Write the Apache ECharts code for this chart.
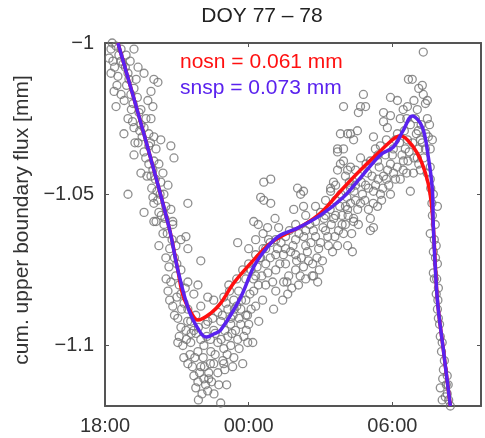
<!DOCTYPE html>
<html>
<head>
<meta charset="utf-8">
<script src="https://cdn.jsdelivr.net/npm/echarts@6/dist/echarts.min.js"></script>
<style>html,body{margin:0;padding:0;background:#fff}#c{width:485px;height:438px}</style>
</head>
<body>
<div id="c"></div>
<script>
// x values: hours since 18:00 (DOY 77)
const titleText = 'DOY 77 \u2013 78';
const yAxisTitle = 'cum. upper boundary flux [mm]';
const xTickValues = [0, 6, 12];
const xTickLabels = ['18:00', '00:00', '06:00'];
const yTickValues = [-1.1, -1.05, -1];
const yTickLabels = ['\u22121.1', '\u22121.05', '\u22121'];
const legendNosn = 'nosn = 0.061 mm';
const legendSnsp = 'snsp = 0.073 mm';

const nosnH = [0.54,1.58,2.67,3.04,3.25,3.58,3.88,4.42,4.83,5.38,6.21,6.92,7.63,8.29,9.00,9.83,10.67,11.50,12.04,12.33,12.63,13.04,13.38,13.58,13.71,13.88,14.13,14.42];
const nosnY = [-1.000,-1.0288,-1.0608,-1.0750,-1.0833,-1.0889,-1.0916,-1.0893,-1.0860,-1.0793,-1.0717,-1.0661,-1.0628,-1.0602,-1.0562,-1.0490,-1.0420,-1.0357,-1.0318,-1.0307,-1.0321,-1.0364,-1.0430,-1.0502,-1.0608,-1.0850,-1.1015,-1.1200];

const snspH = [0.54,1.58,2.67,3.04,3.50,4.00,4.25,4.54,4.83,5.67,6.21,6.79,7.33,8.04,9.00,9.96,10.67,11.50,12.04,12.46,12.83,13.25,13.50,13.67,13.71,13.88,14.13,14.42];
const snspY = [-1.000,-1.0288,-1.0608,-1.0750,-1.0883,-1.0959,-1.0972,-1.0962,-1.0949,-1.0840,-1.0740,-1.0674,-1.0635,-1.0612,-1.0569,-1.0509,-1.0445,-1.0370,-1.0344,-1.0288,-1.0241,-1.0278,-1.0377,-1.0486,-1.0608,-1.0850,-1.1015,-1.1200];

const obsPoints = [
[0.25,-1.002],[0.46,-1.001],[1.21,-1.002],[0.67,-1.006],[0.88,-1.004],[1.38,-1.008],[0.25,-1.010],[0.54,-1.011],[0.96,-1.010],[1.63,-1.010],
[2.04,-1.012],[0.38,-1.016],[0.67,-1.017],[1.21,-1.015],[1.92,-1.016],[2.21,-1.013],[0.46,-1.021],[1.17,-1.020],[1.79,-1.019],[2.00,-1.021],
[0.96,-1.025],[1.42,-1.023],[1.92,-1.025],[1.21,-1.028],[0.79,-1.030],[1.63,-1.028],[2.04,-1.031],[1.38,-1.033],[2.33,-1.032],[1.83,-1.034],
[2.75,-1.034],[1.21,-1.037],[1.63,-1.036],[2.04,-1.039],[2.88,-1.038],[1.50,-1.043],[1.92,-1.044],[2.42,-1.043],[0.96,-1.050],[2.00,-1.051],
[2.46,-1.050],[3.46,-1.053],[2.04,-1.053],[1.63,-1.056],[2.25,-1.056],[2.13,-1.059],[2.83,-1.059],
[0.67,-1.002],[0.75,-1.007],[1.00,-1.012],[1.08,-1.017],[1.50,-1.022],[1.71,-1.025],[1.50,-1.027],[1.83,-1.030],[2.13,-1.035],[2.25,-1.040],
[1.83,-1.040],[2.33,-1.046],[2.63,-1.047],[2.17,-1.049],[2.54,-1.054],[2.75,-1.055],[2.46,-1.060],[0.17,-1.005],[0.33,-1.006],
[2.04,-1.059],[2.83,-1.060],[2.42,-1.063],[3.17,-1.065],[3.38,-1.064],[2.25,-1.067],[2.96,-1.067],[3.46,-1.068],[4.00,-1.072],[2.54,-1.071],
[2.67,-1.074],[3.17,-1.075],[2.75,-1.079],[3.46,-1.079],[3.88,-1.080],[2.63,-1.082],[3.17,-1.083],[3.71,-1.083],[4.29,-1.084],[2.83,-1.087],
[3.46,-1.088],[4.00,-1.087],[4.54,-1.085],[4.96,-1.084],[3.04,-1.091],[3.58,-1.092],[4.29,-1.092],[4.71,-1.089],[5.13,-1.088],[3.17,-1.094],
[3.71,-1.095],[4.54,-1.095],[3.04,-1.099],[3.58,-1.099],[4.00,-1.098],[4.71,-1.099],[5.13,-1.097],[3.29,-1.104],[3.88,-1.102],[4.42,-1.102],
[4.96,-1.101],[3.46,-1.106],[4.00,-1.107],[4.54,-1.106],[3.71,-1.110],[4.13,-1.111],[4.71,-1.109],[3.88,-1.112],[4.29,-1.115],[4.83,-1.119],
[3.79,-1.090],[4.21,-1.093],[4.50,-1.091],[4.83,-1.092],[5.25,-1.091],[5.50,-1.087],[5.67,-1.093],[6.00,-1.093],[6.17,-1.099],[5.75,-1.106],
[5.33,-1.107],[5.25,-1.100],[5.54,-1.098],[4.92,-1.105],[4.33,-1.109],[3.79,-1.114],[4.33,-1.111],[5.08,-1.113],[3.38,-1.095],[4.13,-1.100],
[6.63,-1.046],[6.92,-1.045],[6.63,-1.052],[6.92,-1.053],[6.21,-1.059],[6.79,-1.061],[5.54,-1.066],[8.04,-1.048],[8.17,-1.050],[7.88,-1.055],
[8.29,-1.054],[9.71,-1.036],[9.83,-1.040],[10.25,-1.041],[9.54,-1.046],[9.42,-1.049],[10.38,-1.058],[10.13,-1.067],[9.71,-1.067],[8.88,-1.079],
[8.71,-1.077],[8.29,-1.074],[7.04,-1.088],[7.63,-1.083],[7.46,-1.079],[6.21,-1.082],[5.67,-1.088],[5.25,-1.093],[5.96,-1.099],[5.38,-1.104],
[4.96,-1.106],[6.50,-1.051],
[5.17,-1.080],[5.38,-1.085],[5.58,-1.082],[5.88,-1.078],[5.88,-1.085],[5.88,-1.090],[6.00,-1.073],[6.29,-1.070],[6.29,-1.077],[6.29,-1.087],
[6.42,-1.092],[6.29,-1.065],[6.71,-1.068],[6.71,-1.073],[6.71,-1.080],[6.58,-1.085],[6.83,-1.065],[7.13,-1.065],[7.13,-1.070],[7.13,-1.075],
[7.13,-1.082],[7.25,-1.061],[7.54,-1.064],[7.54,-1.068],[7.54,-1.073],[7.67,-1.077],[7.42,-1.085],[7.96,-1.060],[7.96,-1.065],[7.96,-1.070],
[7.96,-1.075],[8.08,-1.080],[8.38,-1.057],[8.38,-1.062],[8.38,-1.067],[8.50,-1.072],[8.38,-1.078],[8.79,-1.054],[8.79,-1.059],[8.79,-1.064],
[8.92,-1.068],[8.67,-1.073],[9.21,-1.052],[9.21,-1.057],[9.21,-1.062],[9.33,-1.067],[9.08,-1.072],[9.63,-1.047],[9.63,-1.052],[9.63,-1.057],
[9.75,-1.062],[10.04,-1.044],[10.04,-1.049],[10.04,-1.054],[10.04,-1.060],[10.46,-1.042],[10.46,-1.047],[10.46,-1.052],[10.58,-1.060],
[13.29,-1.003],[12.67,-1.012],[12.83,-1.012],[13.25,-1.014],[13.29,-1.017],[10.79,-1.017],[11.92,-1.018],[12.21,-1.019],[10.67,-1.021],[10.88,-1.021],
[11.63,-1.023],[11.92,-1.024],[9.96,-1.021],[12.63,-1.021],[13.04,-1.022],[13.38,-1.020],[13.46,-1.025],[11.79,-1.028],[11.63,-1.026],[10.54,-1.029],
[10.13,-1.030],[10.38,-1.032],[11.21,-1.031],[12.21,-1.030],[11.50,-1.034],[12.04,-1.035],[12.63,-1.032],[13.17,-1.032],[13.50,-1.031],[13.58,-1.035],
[9.96,-1.035],[10.67,-1.038],[11.38,-1.039],[11.92,-1.040],[12.46,-1.039],[13.04,-1.038],[13.58,-1.041],[10.13,-1.042],[10.96,-1.043],[11.63,-1.044],
[12.33,-1.045],[12.88,-1.043],[13.58,-1.045],[10.25,-1.048],[11.21,-1.049],[11.92,-1.050],[12.75,-1.049],[13.71,-1.050],[10.67,-1.053],[11.38,-1.054],
[10.38,-1.059],[11.08,-1.058],[10.13,-1.055],[13.88,-1.054],[10.58,-1.023],[9.83,-1.030],[10.25,-1.030],[9.71,-1.035],[9.96,-1.039],[9.71,-1.042],
[8.29,-1.049],[9.42,-1.048],
[12.96,-1.025],[12.75,-1.027],[13.08,-1.029],[12.33,-1.025],[12.54,-1.035],[12.13,-1.032],[11.71,-1.037],[11.29,-1.035],[11.08,-1.039],[10.88,-1.047],
[11.50,-1.050],[12.13,-1.045],[13.17,-1.042],[13.38,-1.035],[13.67,-1.032],[13.46,-1.019],
[13.58,-1.063],[13.71,-1.069],[13.88,-1.073],[13.71,-1.076],[13.92,-1.081],[13.88,-1.088],[14.00,-1.097],[14.08,-1.099],[14.13,-1.108],[14.29,-1.110],
[14.00,-1.114],[14.29,-1.116],[14.08,-1.118],[13.67,-1.057],[13.79,-1.060],[13.83,-1.067],[13.75,-1.078],[13.83,-1.083],[13.92,-1.091],[14.17,-1.105],
[14.33,-1.113],[14.21,-1.117],[14.42,-1.120],[9.96,-1.063],[10.33,-1.069],[11.21,-1.061],[11.08,-1.062],
[0.30,-1.000],[0.58,-1.004],[0.85,-1.008],[1.05,-1.006],[0.50,-1.014],[0.80,-1.019],[1.30,-1.012],[1.10,-1.022],[1.35,-1.018],[1.55,-1.031],
[1.25,-1.033],[1.70,-1.038],[1.90,-1.033],[2.10,-1.045],[1.95,-1.048],[2.20,-1.052],[2.35,-1.057],[2.60,-1.063],[2.70,-1.068],[2.90,-1.071],
[2.55,-1.078],[2.95,-1.077],[3.10,-1.080],[3.30,-1.086],[2.90,-1.090],[3.10,-1.097],[3.45,-1.092],[3.60,-1.096],[3.80,-1.096],[3.25,-1.100],
[3.55,-1.103],[3.75,-1.104],[4.10,-1.104],[4.25,-1.097],[4.40,-1.098],[3.95,-1.109],[4.20,-1.113],[4.05,-1.116],[4.45,-1.112],[4.60,-1.103],
[4.85,-1.098],[5.00,-1.095],[5.10,-1.103],[5.45,-1.095],[5.60,-1.101],[5.35,-1.090],[5.70,-1.085],[5.90,-1.095],[6.10,-1.088],[6.40,-1.080],
[6.55,-1.077],[6.10,-1.075],[6.45,-1.071],[6.90,-1.071],[7.00,-1.079],[7.30,-1.073],[7.35,-1.066],[7.70,-1.062],[7.75,-1.069],[7.80,-1.081],
[8.10,-1.063],[8.20,-1.071],[8.55,-1.060],[8.60,-1.066],[8.65,-1.077],[9.00,-1.056],[9.00,-1.066],[9.10,-1.061],[9.40,-1.055],[9.45,-1.060],
[9.50,-1.069],[9.85,-1.050],[9.90,-1.057],[10.20,-1.046],[10.25,-1.053],[10.30,-1.063],[10.70,-1.046],[10.75,-1.050],[10.90,-1.040],[11.00,-1.055],
[11.15,-1.044],[11.30,-1.047],[11.45,-1.041],[11.55,-1.052],[11.80,-1.042],[11.85,-1.047],[12.00,-1.037],[12.20,-1.041],[12.30,-1.033],[12.50,-1.029],
[12.60,-1.043],[12.70,-1.036],[12.85,-1.033],[13.00,-1.030],[13.10,-1.035],[13.20,-1.027],[13.30,-1.038],[13.40,-1.030],[13.45,-1.043],[13.55,-1.027],
[13.60,-1.048],[13.65,-1.053],[13.75,-1.065],[13.80,-1.071],[13.85,-1.078],[13.90,-1.085],[13.97,-1.093],[14.05,-1.102],[14.10,-1.111],[14.25,-1.113],
[14.35,-1.118],[5.20,-1.082],[5.50,-1.078],[5.75,-1.075],[6.00,-1.068],[6.60,-1.063],[7.10,-1.058],[6.40,-1.060],
[6.90,-1.066],[7.20,-1.068],[7.45,-1.070],[7.60,-1.079],[7.85,-1.067],[8.00,-1.072],[8.15,-1.077],[8.30,-1.064],[8.45,-1.069],[8.70,-1.062],
[8.85,-1.071],[8.95,-1.075],[9.15,-1.058],[9.30,-1.064],[9.55,-1.058],[9.60,-1.064],[9.80,-1.054],[9.90,-1.060],[10.10,-1.051],[10.15,-1.057],
[10.40,-1.049],[10.55,-1.055],[10.60,-1.044],[10.85,-1.052],[11.00,-1.048],[11.20,-1.053],[11.40,-1.045],[11.60,-1.048],[11.75,-1.045],[12.05,-1.043],
[12.40,-1.037],[12.45,-1.042],[12.65,-1.039],[12.90,-1.038],[13.10,-1.040],[13.25,-1.033],
[4.60,-1.096],[4.90,-1.090],[5.05,-1.086],[5.30,-1.096],[5.40,-1.088],[5.60,-1.091],[5.80,-1.097],[5.95,-1.090],[6.05,-1.083],[6.20,-1.078],
[6.35,-1.074],[6.50,-1.071],[6.60,-1.068],[6.80,-1.076],[5.00,-1.108],[4.40,-1.106],[3.65,-1.107],[3.40,-1.098],[3.90,-1.094],[4.15,-1.107],
[4.75,-1.113],[3.90,-1.118],[4.55,-1.116],
[0.40,-1.008],[0.90,-1.014],[1.15,-1.026],[1.45,-1.029],[1.75,-1.044],[2.00,-1.042],[2.30,-1.050],[2.50,-1.058],[2.80,-1.065],[3.00,-1.073],
[3.20,-1.088],[3.35,-1.081],[2.70,-1.085],[3.00,-1.084],
[12.60,-1.025],[12.90,-1.019],[13.10,-1.015],[12.45,-1.022],[11.75,-1.032],[11.40,-1.037]
];

const FONT = '"Liberation Sans", Arial, sans-serif';
const RED = '#ff1010';
const BLUE = '#5a22ee';
const AXIS = '#555555';

function pairs(h, y) { return h.map((v, i) => [v, y[i]]); }
function xLabel(v) { const i = xTickValues.indexOf(v); return i >= 0 ? xTickLabels[i] : ''; }
function yLabel(v) { const i = yTickValues.findIndex(t => Math.abs(t - v) < 1e-9); return i >= 0 ? yTickLabels[i] : ''; }

const chart = echarts.init(document.getElementById('c'), null, {renderer: 'canvas'});
const baseX = {
  type: 'value', min: 0, max: 15.7,
  axisLine: {show: true, onZero: false, lineStyle: {color: AXIS, width: 2}},
  axisTick: {show: true, inside: true, length: 4, customValues: xTickValues, lineStyle: {color: AXIS}},
  splitLine: {show: false}
};
const baseY = {
  type: 'value', min: -1.12, max: -1,
  axisLine: {show: true, onZero: false, lineStyle: {color: AXIS, width: 2}},
  axisTick: {show: true, inside: true, length: 4, customValues: yTickValues, lineStyle: {color: AXIS}},
  splitLine: {show: false}
};
chart.setOption({
  animation: false,
  backgroundColor: '#fff',
  grid: {left: 105, right: 4, top: 43, bottom: 32, containLabel: false},
  xAxis: [
    Object.assign({}, baseX, {position: 'bottom',
      axisLabel: {show: true, customValues: xTickValues, formatter: xLabel, margin: 10, fontSize: 20, color: '#333', fontFamily: FONT}}),
    Object.assign({}, baseX, {position: 'top', axisLabel: {show: false}})
  ],
  yAxis: [
    Object.assign({}, baseY, {position: 'left',
      axisLabel: {show: true, customValues: yTickValues, formatter: yLabel, margin: 11, fontSize: 20, color: '#333', fontFamily: FONT}}),
    Object.assign({}, baseY, {position: 'right', axisLabel: {show: false}})
  ],
  series: [
    {type: 'scatter', data: obsPoints, symbol: 'circle', symbolSize: 8,
     itemStyle: {color: 'rgba(0,0,0,0)', borderColor: '#727272', borderWidth: 1.3}, z: 1},
    {type: 'line', data: pairs(nosnH, nosnY), smooth: 0.35, showSymbol: false, clip: true,
     lineStyle: {color: RED, width: 3.5}, z: 3},
    {type: 'line', data: pairs(snspH, snspY), smooth: 0.35, showSymbol: false, clip: true,
     lineStyle: {color: BLUE, width: 3.5}, z: 4}
  ],
  graphic: [
    {type: 'text', x: 262, y: 16, style: {text: titleText, fill: '#222', font: '21px ' + FONT, textAlign: 'center', textVerticalAlign: 'middle'}},
    {type: 'text', x: 22, y: 220, rotation: Math.PI / 2, style: {text: yAxisTitle, fill: '#333', font: '21px ' + FONT, textAlign: 'center', textVerticalAlign: 'middle'}},
    {type: 'text', x: 180, y: 62, style: {text: legendNosn, fill: RED, font: '21px ' + FONT, textAlign: 'left', textVerticalAlign: 'middle'}},
    {type: 'text', x: 180, y: 88, style: {text: legendSnsp, fill: BLUE, font: '21px ' + FONT, textAlign: 'left', textVerticalAlign: 'middle'}}
  ]
});
</script>
</body>
</html>
